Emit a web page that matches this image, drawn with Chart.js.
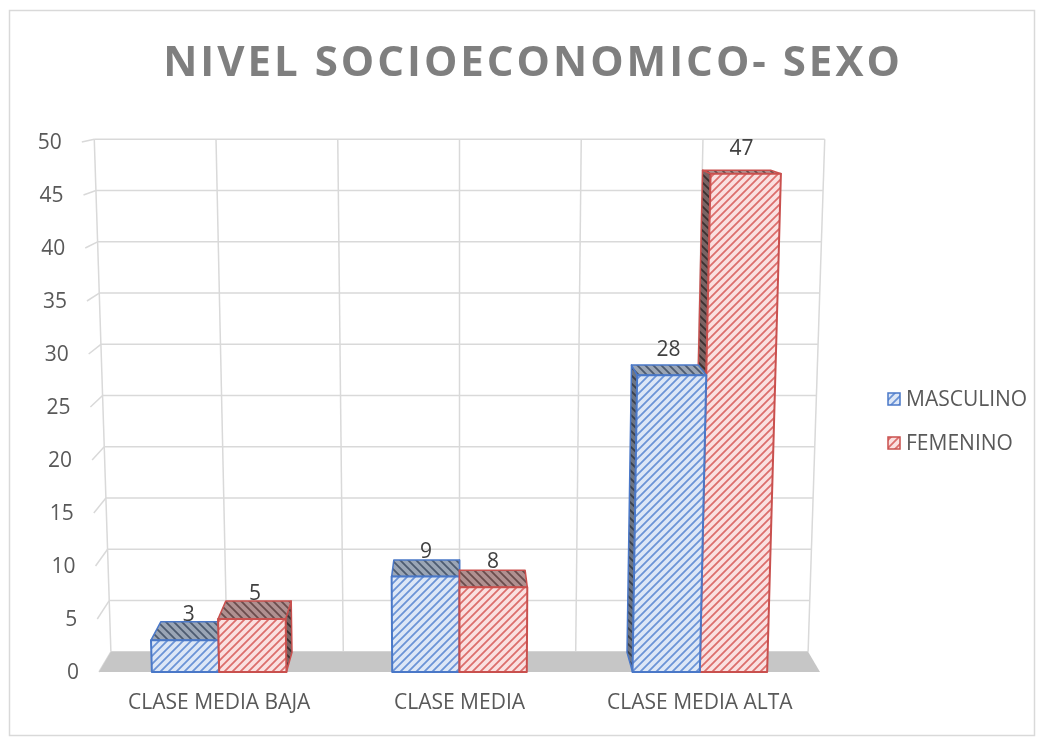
<!DOCTYPE html>
<html>
<head>
<meta charset="utf-8">
<script src="https://cdn.jsdelivr.net/npm/chart.js@4.4.1/dist/chart.umd.min.js"></script>
<style>
  html, body { margin: 0; padding: 0; background: #fff; }
  #wrap { width: 1044px; height: 744px; }
</style>
</head>
<body>
<div id="wrap"><canvas id="c" width="1044" height="744"></canvas></div>
<script>
const categories = ["CLASE MEDIA BAJA", "CLASE MEDIA", "CLASE MEDIA ALTA"];
const masculino = [3, 9, 28];
const femenino = [5, 8, 47];
const seriesNames = ["MASCULINO", "FEMENINO"];
const yMin = 0, yMax = 50, yStep = 5;
const chartTitle = "NIVEL SOCIOECONOMICO- SEXO";

// perspective look of the excel 3d chart
const SPREAD = 0.00009;
const DEPTH = 0.033;
const VY = 60;
const BAR_DEPTH = 0.97;

const canvas = document.getElementById("c");
const ctx = canvas.getContext("2d");

function hatch(bg, fg, up) {
  const c = document.createElement("canvas");
  c.width = c.height = 8;
  const g = c.getContext("2d");
  g.fillStyle = bg;
  g.fillRect(0, 0, 8, 8);
  g.strokeStyle = fg;
  g.lineWidth = 1.8;
  g.beginPath();
  if (up) {
    g.moveTo(-1, 9); g.lineTo(9, -1);
    g.moveTo(-3, 3); g.lineTo(3, -3);
    g.moveTo(5, 11); g.lineTo(11, 5);
  } else {
    g.moveTo(-1, -1); g.lineTo(9, 9);
    g.moveTo(-3, 5); g.lineTo(3, 11);
    g.moveTo(5, -3); g.lineTo(11, 3);
  }
  g.stroke();
  return ctx.createPattern(c, "repeat");
}

const styles = [
  {
    edge: "#4a78c8",
    front: hatch("#dde7f6", "#6b93d6", true),
    top: hatch("#9aa5b5", "#4d5b70", false),
    side: hatch("#6d7584", "#3a404c", false)
  },
  {
    edge: "#c9504e",
    front: hatch("#fae0e0", "#dc6e6c", true),
    top: hatch("#b09090", "#6a4c4c", false),
    side: hatch("#7a6464", "#3c3030", false)
  }
];

function quad(pts, fill, stroke, lw) {
  ctx.beginPath();
  ctx.moveTo(pts[0][0], pts[0][1]);
  for (let i = 1; i < pts.length; i++) ctx.lineTo(pts[i][0], pts[i][1]);
  ctx.closePath();
  if (fill) { ctx.fillStyle = fill; ctx.fill(); }
  if (stroke) { ctx.strokeStyle = stroke; ctx.lineWidth = lw || 1.5; ctx.stroke(); }
}

function line(a, b, color, lw) {
  ctx.beginPath();
  ctx.moveTo(a[0], a[1]);
  ctx.lineTo(b[0], b[1]);
  ctx.strokeStyle = color;
  ctx.lineWidth = lw;
  ctx.stroke();
}

const bars3d = {
  id: "bars3d",
  beforeDraw(chart) {
    ctx.save();
    ctx.fillStyle = "#fff";
    ctx.fillRect(0, 0, chart.width, chart.height);
    ctx.strokeStyle = "#d9d9d9";
    ctx.lineWidth = 1.5;
    ctx.strokeRect(9.5, 10.5, 1025, 725);

    ctx.fillStyle = "#7f7f7f";
    ctx.font = "bold 42px 'Open Sans'";
    ctx.letterSpacing = "3px";
    ctx.textAlign = "center";
    ctx.textBaseline = "alphabetic";
    ctx.fillText(chartTitle, 533, 76);
    ctx.restore();
  },
  beforeDatasetsDraw(chart) {
    const a = chart.chartArea;
    const cx = (a.left + a.right) / 2;
    const yS = chart.scales.y;
    const P = (x, y, z) => {
      const s = 1 + (a.bottom - y) * SPREAD;
      const fx = cx + (x - cx) * s;
      return [fx - (fx - cx) * DEPTH * z, y - (y - VY) * DEPTH * z];
    };

    ctx.save();
    ctx.lineJoin = "round";

    // back wall grid
    const grid = "#d9d9d9";
    yS.ticks.forEach(t => {
      const y = yS.getPixelForValue(t.value);
      line(P(a.left, y, 0), P(a.left, y, 1), grid, 1.5);
      line(P(a.left, y, 1), P(a.right, y, 1), grid, 1.5);
    });
    const step = (a.right - a.left) / (categories.length * 2);
    for (let i = 0; i <= categories.length * 2; i++) {
      const x = a.left + step * i;
      line(P(x, a.bottom, 1), P(x, a.top, 1), grid, 1.5);
    }

    // floor
    quad([P(a.left, a.bottom, 0), P(a.right, a.bottom, 0), P(a.right, a.bottom, 1), P(a.left, a.bottom, 1)], "#c6c6c6");

    // y labels follow the slanted front edge
    ctx.fillStyle = "#595959";
    ctx.font = "21px 'Open Sans'";
    ctx.textAlign = "right";
    ctx.textBaseline = "middle";
    yS.ticks.forEach(t => {
      const y = yS.getPixelForValue(t.value);
      const p = P(a.left, y, 0);
      ctx.fillText(String(t.value), p[0] - 20, y + 1);
    });

    // bars, farthest from center first
    const bars = [];
    chart.data.datasets.forEach((ds, di) => {
      chart.getDatasetMeta(di).data.forEach((el, i) => {
        bars.push({ el, di, value: ds.data[i] });
      });
    });
    bars.sort((p, q) => Math.abs(q.el.x - cx) - Math.abs(p.el.x - cx));

    bars.forEach(b => {
      const st = styles[b.di];
      const xl = b.el.x - b.el.width / 2;
      const xr = b.el.x + b.el.width / 2;
      const yt = b.el.y;
      const yb = b.el.base;
      const zb = BAR_DEPTH;
      if (xr <= cx + 1) {
        quad([P(xr, yt, 0), P(xr, yb, 0), P(xr, yb, zb), P(xr, yt, zb)], st.side, st.edge);
      } else if (xl >= cx - 1) {
        quad([P(xl, yt, 0), P(xl, yb, 0), P(xl, yb, zb), P(xl, yt, zb)], st.side, st.edge);
      }
      quad([P(xl, yt, 0), P(xr, yt, 0), P(xr, yt, zb), P(xl, yt, zb)], st.top, st.edge);
      quad([P(xl, yt, 0), P(xr, yt, 0), P(xr, yb, 0), P(xl, yb, 0)], st.front, st.edge, 2);
    });

    // value labels
    ctx.fillStyle = "#404040";
    ctx.font = "21px 'Open Sans'";
    ctx.textAlign = "center";
    ctx.textBaseline = "middle";
    bars.forEach(b => {
      const p = P(b.el.x, b.el.y, 0.45);
      ctx.fillText(String(b.value), p[0], b.el.y - 25);
    });

    ctx.restore();
    return false;
  },
  afterDraw(chart) {
    ctx.save();
    ctx.font = "21px 'Open Sans'";
    ctx.textAlign = "left";
    ctx.textBaseline = "middle";
    chart.data.datasets.forEach((ds, i) => {
      const y = 399 + i * 44;
      ctx.fillStyle = styles[i].front;
      ctx.fillRect(888, y - 6, 12, 12);
      ctx.strokeStyle = styles[i].edge;
      ctx.lineWidth = 1.5;
      ctx.strokeRect(888, y - 6, 12, 12);
      ctx.fillStyle = "#595959";
      ctx.fillText(ds.label, 906, y + 1);
    });
    ctx.restore();
  }
};

new Chart(canvas, {
  type: "bar",
  data: {
    labels: categories,
    datasets: [
      { label: seriesNames[0], data: masculino, backgroundColor: styles[0].front, borderColor: styles[0].edge },
      { label: seriesNames[1], data: femenino, backgroundColor: styles[1].front, borderColor: styles[1].edge }
    ]
  },
  options: {
    responsive: false,
    animation: false,
    categoryPercentage: 0.56,
    barPercentage: 1,
    layout: { padding: { top: 142, left: 99, right: 224, bottom: 12 } },
    plugins: {
      legend: { display: false },
      title: { display: false },
      tooltip: { enabled: false }
    },
    scales: {
      x: {
        grid: { display: false, drawTicks: false },
        border: { display: false },
        ticks: {
          color: "#595959",
          font: { family: "'Open Sans'", size: 21 },
          padding: 18,
          maxRotation: 0,
          autoSkip: false
        },
        afterFit: (scale) => { scale.height = 60; }
      },
      y: {
        display: false,
        min: yMin,
        max: yMax,
        ticks: { stepSize: yStep }
      }
    }
  },
  plugins: [bars3d]
});
</script>
</body>
</html>
